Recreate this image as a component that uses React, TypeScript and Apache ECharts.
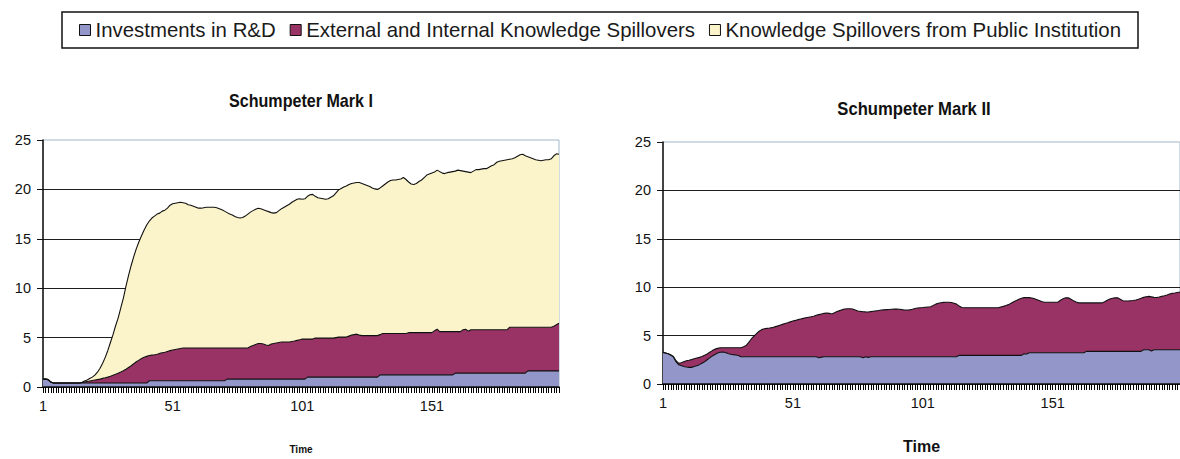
import React, { useEffect, useRef } from 'react';
import * as echarts from 'echarts';

// ---------- data ----------
const TIME: string[] = Array.from({ length: 200 }, (_, i) => String(i + 1));

const SERIES_NAMES = [
  'Investments in R&D',
  'External and Internal Knowledge Spillovers',
  'Knowledge Spillovers from Public Institution',
];

const CHART_TITLES = ['Schumpeter Mark I', 'Schumpeter Mark II'];
const X_AXIS_NAME = 'Time';

// Schumpeter Mark I
const MARK1_RD = [
  0.8, 0.8, 0.75, 0.5, 0.4, 0.4, 0.4, 0.4, 0.4, 0.4,
  0.4, 0.4, 0.4, 0.4, 0.4, 0.4, 0.4, 0.4, 0.4, 0.4,
  0.4, 0.4, 0.4, 0.4, 0.4, 0.4, 0.4, 0.4, 0.4, 0.4,
  0.4, 0.4, 0.4, 0.4, 0.4, 0.4, 0.4, 0.4, 0.4, 0.4,
  0.4, 0.63, 0.63, 0.63, 0.63, 0.63, 0.63, 0.63, 0.63, 0.63,
  0.63, 0.63, 0.63, 0.63, 0.63, 0.63, 0.63, 0.63, 0.63, 0.63,
  0.63, 0.63, 0.63, 0.63, 0.63, 0.63, 0.63, 0.63, 0.63, 0.63,
  0.63, 0.8, 0.8, 0.8, 0.8, 0.8, 0.8, 0.8, 0.8, 0.8,
  0.8, 0.8, 0.8, 0.8, 0.8, 0.8, 0.8, 0.8, 0.8, 0.8,
  0.8, 0.8, 0.8, 0.8, 0.8, 0.8, 0.8, 0.8, 0.8, 0.8,
  0.8, 0.8, 1.0, 1.0, 1.0, 1.0, 1.0, 1.0, 1.0, 1.0,
  1.0, 1.0, 1.0, 1.0, 1.0, 1.0, 1.0, 1.0, 1.0, 1.0,
  1.0, 1.0, 1.0, 1.0, 1.0, 1.0, 1.0, 1.0, 1.0, 1.0,
  1.23, 1.23, 1.23, 1.23, 1.23, 1.23, 1.23, 1.23, 1.23, 1.23,
  1.23, 1.23, 1.23, 1.23, 1.23, 1.23, 1.23, 1.23, 1.23, 1.23,
  1.23, 1.23, 1.23, 1.23, 1.23, 1.23, 1.23, 1.23, 1.23, 1.4,
  1.4, 1.4, 1.4, 1.4, 1.4, 1.4, 1.4, 1.4, 1.4, 1.4,
  1.4, 1.4, 1.4, 1.4, 1.4, 1.4, 1.4, 1.4, 1.4, 1.4,
  1.4, 1.4, 1.4, 1.4, 1.4, 1.4, 1.4, 1.63, 1.63, 1.63,
  1.63, 1.63, 1.63, 1.63, 1.63, 1.63, 1.63, 1.63, 1.63, 1.63,
];

const MARK1_EXT = [
  0, 0, 0, 0, 0, 0, 0, 0, 0, 0,
  0, 0, 0, 0, 0, 0.05, 0.1, 0.15, 0.2, 0.25,
  0.3, 0.35, 0.4, 0.47, 0.53, 0.6, 0.68, 0.78, 0.88, 1.0,
  1.12, 1.25, 1.4, 1.58, 1.75, 1.95, 2.15, 2.32, 2.48, 2.6,
  2.7, 2.55, 2.6, 2.64, 2.69, 2.77, 2.83, 2.89, 2.97, 3.05,
  3.12, 3.17, 3.22, 3.27, 3.32, 3.32, 3.32, 3.32, 3.32, 3.32,
  3.32, 3.32, 3.32, 3.32, 3.32, 3.32, 3.32, 3.32, 3.32, 3.32,
  3.32, 3.15, 3.15, 3.15, 3.15, 3.15, 3.15, 3.15, 3.15, 3.15,
  3.3, 3.4, 3.5, 3.6, 3.6, 3.55, 3.45, 3.4, 3.55, 3.6,
  3.65, 3.7, 3.75, 3.75, 3.75, 3.75, 3.8, 3.85, 3.92, 3.98,
  4.05, 4.05, 3.85, 3.85, 3.85, 3.95, 3.95, 3.95, 3.95, 3.95,
  3.95, 3.95, 3.95, 4.0, 4.05, 4.05, 4.05, 4.05, 4.15, 4.25,
  4.3, 4.35, 4.25, 4.2, 4.2, 4.2, 4.2, 4.2, 4.2, 4.2,
  4.07, 4.19, 4.19, 4.19, 4.19, 4.19, 4.19, 4.19, 4.19, 4.19,
  4.19, 4.27, 4.27, 4.27, 4.27, 4.27, 4.27, 4.27, 4.27, 4.27,
  4.27, 4.47, 4.62, 4.37, 4.37, 4.37, 4.37, 4.37, 4.37, 4.2,
  4.2, 4.2, 4.4, 4.45, 4.25, 4.4, 4.4, 4.4, 4.4, 4.4,
  4.4, 4.4, 4.4, 4.4, 4.4, 4.4, 4.4, 4.4, 4.4, 4.4,
  4.65, 4.65, 4.65, 4.65, 4.65, 4.65, 4.65, 4.42, 4.42, 4.42,
  4.42, 4.42, 4.42, 4.42, 4.42, 4.42, 4.42, 4.52, 4.67, 4.82,
];

const MARK1_PUB = [
  0, 0, 0, 0, 0, 0, 0, 0, 0, 0,
  0, 0, 0, 0, 0, 0, 0.1, 0.15, 0.25, 0.35,
  0.5, 0.75, 1.1, 1.53, 2.07, 2.7, 3.42, 4.12, 4.92, 5.6,
  6.48, 7.35, 8.4, 9.32, 10.15, 10.85, 11.45, 11.98, 12.42, 12.9,
  13.3, 13.62, 13.87, 14.03, 14.18, 14.2, 14.34, 14.38, 14.5, 14.72,
  14.8, 14.8, 14.8, 14.8, 14.7, 14.65, 14.5, 14.45, 14.35, 14.25,
  14.15, 14.15, 14.2, 14.25, 14.25, 14.25, 14.25, 14.2, 14.1, 14.0,
  13.85, 13.7, 13.55, 13.45, 13.3, 13.2, 13.15, 13.2, 13.35, 13.55,
  13.6, 13.65, 13.7, 13.7, 13.65, 13.6, 13.6, 13.55, 13.3, 13.2,
  13.2, 13.35, 13.5, 13.65, 13.8, 13.95, 14.1, 14.2, 14.28, 14.27,
  14.15, 14.2, 14.45, 14.6, 14.65, 14.35, 14.2, 14.15, 14.1, 14.05,
  14.1, 14.25, 14.4, 14.65, 14.9, 15.05, 15.2, 15.3, 15.35, 15.35,
  15.35, 15.35, 15.45, 15.4, 15.3, 15.2, 15.1, 14.95, 14.85, 14.8,
  14.85, 14.93, 15.13, 15.33, 15.48, 15.53, 15.53, 15.58, 15.63, 15.78,
  15.58, 15.25, 15.05, 15.0, 15.1, 15.3, 15.45, 15.7, 15.95, 16.05,
  16.15, 16.05, 16.1, 16.2, 16.05, 16.0, 16.1, 16.15, 16.2, 16.25,
  16.35, 16.3, 16.05, 15.95, 16.1, 15.9, 16.05, 16.2, 16.2, 16.25,
  16.3, 16.3, 16.45, 16.6, 16.7, 16.95, 17.05, 17.1, 17.15, 17.2,
  17.0, 17.05, 17.15, 17.3, 17.45, 17.5, 17.35, 17.25, 17.15, 17.05,
  16.95, 16.9, 16.85, 16.9, 16.95, 16.95, 17.05, 17.25, 17.3, 17.1,
];

// Schumpeter Mark II
const MARK2_RD = [
  3.27, 3.2, 3.13, 3.0, 2.8, 2.3, 2.0, 1.9, 1.8, 1.75,
  1.72, 1.72, 1.8, 1.88, 2.0, 2.15, 2.3, 2.5, 2.7, 2.9,
  3.05, 3.2, 3.28, 3.3, 3.25, 3.15, 3.08, 3.03, 3.0, 2.95,
  2.82, 2.82, 2.82, 2.82, 2.82, 2.82, 2.82, 2.82, 2.82, 2.82,
  2.82, 2.82, 2.82, 2.82, 2.82, 2.82, 2.82, 2.82, 2.82, 2.82,
  2.82, 2.82, 2.82, 2.82, 2.82, 2.82, 2.82, 2.82, 2.82, 2.82,
  2.72, 2.78, 2.82, 2.82, 2.82, 2.82, 2.82, 2.82, 2.82, 2.82,
  2.82, 2.82, 2.82, 2.82, 2.82, 2.82, 2.82, 2.72, 2.82, 2.75,
  2.82, 2.82, 2.82, 2.82, 2.82, 2.82, 2.82, 2.82, 2.82, 2.82,
  2.82, 2.82, 2.82, 2.82, 2.82, 2.82, 2.82, 2.82, 2.82, 2.82,
  2.82, 2.82, 2.82, 2.82, 2.82, 2.82, 2.82, 2.82, 2.82, 2.82,
  2.82, 2.82, 2.82, 2.82, 2.96, 2.96, 2.96, 2.96, 2.96, 2.96,
  2.96, 2.96, 2.96, 2.96, 2.96, 2.96, 2.96, 2.96, 2.96, 2.96,
  2.96, 2.96, 2.96, 2.96, 2.96, 2.96, 2.96, 2.96, 2.96, 3.13,
  3.1, 3.23, 3.23, 3.23, 3.23, 3.23, 3.23, 3.23, 3.23, 3.23,
  3.23, 3.23, 3.23, 3.23, 3.23, 3.23, 3.23, 3.23, 3.23, 3.23,
  3.23, 3.23, 3.23, 3.37, 3.37, 3.37, 3.37, 3.37, 3.37, 3.37,
  3.37, 3.37, 3.37, 3.37, 3.37, 3.37, 3.37, 3.37, 3.37, 3.37,
  3.37, 3.37, 3.37, 3.37, 3.37, 3.54, 3.54, 3.54, 3.42, 3.54,
  3.54, 3.54, 3.54, 3.54, 3.54, 3.54, 3.54, 3.54, 3.54, 3.54,
];

const MARK2_EXT = [
  0, 0, 0, 0, 0.05, 0.1, 0.15, 0.3, 0.5, 0.65,
  0.73, 0.8, 0.8, 0.8, 0.75, 0.7, 0.67, 0.6, 0.58, 0.55,
  0.55, 0.48, 0.46, 0.44, 0.49, 0.59, 0.66, 0.71, 0.74, 0.79,
  0.92, 1.03, 1.15, 1.48, 1.83, 2.13, 2.38, 2.63, 2.8, 2.88,
  2.93, 2.96, 3.0, 3.08, 3.16, 3.25, 3.34, 3.43, 3.51, 3.6,
  3.68, 3.75, 3.83, 3.9, 3.96, 4.02, 4.08, 4.12, 4.18, 4.28,
  4.45, 4.46, 4.48, 4.52, 4.48, 4.42, 4.53, 4.66, 4.76, 4.86,
  4.92, 4.96, 4.96, 4.92, 4.83, 4.73, 4.68, 4.75, 4.63, 4.69,
  4.66, 4.7, 4.73, 4.78, 4.82, 4.84, 4.86, 4.88, 4.9, 4.92,
  4.92, 4.9, 4.86, 4.83, 4.82, 4.84, 4.9, 4.98, 5.03, 5.06,
  5.08, 5.11, 5.14, 5.16, 5.28, 5.43, 5.53, 5.58, 5.61, 5.63,
  5.63, 5.6, 5.53, 5.43, 5.09, 4.94, 4.91, 4.91, 4.91, 4.91,
  4.91, 4.91, 4.91, 4.91, 4.91, 4.91, 4.91, 4.91, 4.91, 4.91,
  4.99, 5.06, 5.14, 5.24, 5.39, 5.54, 5.66, 5.79, 5.89, 5.79,
  5.84, 5.69, 5.65, 5.57, 5.47, 5.37, 5.27, 5.22, 5.22, 5.22,
  5.22, 5.22, 5.22, 5.42, 5.57, 5.67, 5.67, 5.52, 5.37, 5.25,
  5.15, 5.15, 5.15, 5.01, 5.01, 5.01, 5.01, 5.01, 5.01, 5.01,
  5.13, 5.28, 5.41, 5.49, 5.53, 5.53, 5.38, 5.23, 5.2, 5.2,
  5.23, 5.25, 5.31, 5.39, 5.48, 5.41, 5.48, 5.51, 5.58, 5.41,
  5.39, 5.44, 5.51, 5.58, 5.66, 5.76, 5.82, 5.86, 5.91, 5.96,
];

// ---------- style ----------
const COLORS = ['#9296c8', '#993366', '#fbf4ca'];
const SANS = "'Liberation Sans', Arial, sans-serif";
const INK = '#111111';

function axes(gridIndex: number, nameGap: number, nameSize: number) {
  const x = {
    type: 'category',
    gridIndex,
    data: TIME,
    boundaryGap: false,
    axisLine: { show: true, onZero: false, lineStyle: { color: INK, width: 1.5 } },
    axisTick: { show: true, interval: 0, inside: false, length: 6, lineStyle: { color: '#000000', width: 1 } },
    axisLabel: { show: true, interval: 49, margin: 11, fontSize: 14.5, fontFamily: SANS, color: INK },
    splitLine: { show: false },
    name: X_AXIS_NAME,
    nameLocation: 'middle',
    nameGap,
    nameTextStyle: { fontSize: nameSize, fontWeight: 'bold', fontFamily: SANS, color: INK },
    z: 5,
  };
  const y = {
    type: 'value',
    gridIndex,
    min: 0,
    max: 25,
    interval: 5,
    axisLine: { show: true, lineStyle: { color: INK, width: 1.5 } },
    axisTick: { show: true, length: 6, lineStyle: { color: INK } },
    axisLabel: { margin: 12, fontSize: 14.5, fontFamily: SANS, color: INK },
    splitLine: { show: true, showMaxLine: false, lineStyle: { color: '#1e1e1e', width: 1 } },
  };
  return { x, y };
}

function area(name: string, idx: number, data: number[], colorIdx: number, stack: string) {
  return {
    name,
    type: 'line',
    xAxisIndex: idx,
    yAxisIndex: idx,
    stack,
    data,
    symbol: 'none',
    showSymbol: false,
    lineStyle: { color: INK, width: 1.1 },
    itemStyle: { color: COLORS[colorIdx] },
    areaStyle: { color: COLORS[colorIdx], opacity: 1 },
    emphasis: { disabled: true },
    silent: true,
  };
}

export default function App() {
  const ref = useRef<HTMLDivElement>(null);

  useEffect(() => {
    if (!ref.current) return;
    const chart = echarts.init(ref.current, null, { renderer: 'svg' });
    const a1 = axes(0, 57, 10);
    const a2 = axes(1, 54, 16);
    chart.setOption({
      animation: false,
      backgroundColor: '#ffffff',
      legend: {
        data: SERIES_NAMES,
        left: 62,
        top: 12,
        orient: 'horizontal',
        icon: 'rect',
        itemWidth: 11,
        itemHeight: 11,
        itemGap: 14,
        padding: [8, 17, 8, 17],
        borderColor: INK,
        borderWidth: 1.5,
        selectedMode: false,
        itemStyle: { borderColor: INK, borderWidth: 1 },
        textStyle: { fontFamily: SANS, fontSize: 20.4, color: '#1a1a1a' },
      },
      grid: [
        { left: 43, top: 140, width: 516, height: 250, show: true, borderColor: '#a3b7c9', borderWidth: 1, backgroundColor: 'transparent' },
        { left: 663, top: 142, width: 526, height: 249, show: true, borderColor: '#a3b7c9', borderWidth: 1, backgroundColor: 'transparent' },
      ],
      xAxis: [a1.x, a2.x],
      yAxis: [a1.y, a2.y],
      graphic: [
        { type: 'text', x: 301, y: 101, scaleX: 0.92, style: { text: CHART_TITLES[0], textAlign: 'center', textVerticalAlign: 'middle', fontSize: 17.5, fontWeight: 'bold', fontFamily: SANS, fill: INK } },
        { type: 'text', x: 914, y: 109, scaleX: 0.9, style: { text: CHART_TITLES[1], textAlign: 'center', textVerticalAlign: 'middle', fontSize: 18.5, fontWeight: 'bold', fontFamily: SANS, fill: INK } },
      ],
      series: [
        area(SERIES_NAMES[0], 0, MARK1_RD, 0, 'mark1'),
        area(SERIES_NAMES[1], 0, MARK1_EXT, 1, 'mark1'),
        area(SERIES_NAMES[2], 0, MARK1_PUB, 2, 'mark1'),
        area(SERIES_NAMES[0], 1, MARK2_RD, 0, 'mark2'),
        area(SERIES_NAMES[1], 1, MARK2_EXT, 1, 'mark2'),
      ],
    });
    return () => chart.dispose();
  }, []);

  return (
    <div
      ref={ref}
      style={{ position: 'absolute', left: 0, top: 0, width: 1180, height: 459, background: '#fff' }}
    />
  );
}
